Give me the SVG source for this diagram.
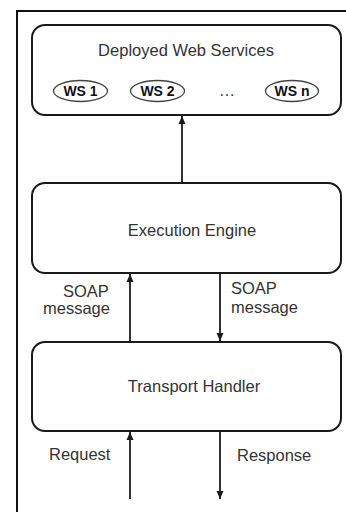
<svg xmlns="http://www.w3.org/2000/svg" width="346" height="512" viewBox="0 0 346 512">
<style>
.box{fill:#fff;stroke:#1a1a1a;stroke-width:2}
.t{font-family:"Liberation Sans",Arial,sans-serif;font-size:16.5px;fill:#333}
.ws{font-family:"Liberation Sans",Arial,sans-serif;font-size:14px;font-weight:bold;fill:#111;text-anchor:middle}
.el{fill:#fff;stroke:#444;stroke-width:1.3}
.c{stroke:#1a1a1a;stroke-width:1.8;fill:none}
</style>
<defs>
<marker id="ah" viewBox="0 0 8 10" refX="8" refY="5" markerWidth="8" markerHeight="10" markerUnits="userSpaceOnUse" orient="auto">
<path d="M0,1.5 L8,5 L0,8.5 Z" fill="#1a1a1a"/>
</marker>
</defs>
<rect width="346" height="512" fill="#fff"/>
<path d="M17,512 V11 H346" fill="none" stroke="#111" stroke-width="2"/>
<g id="deployed">
<rect class="box" x="32" y="25" width="309" height="90" rx="13"/>
<text class="t" x="186" y="56" text-anchor="middle">Deployed Web Services</text>
<g id="ws1"><ellipse class="el" cx="80.5" cy="91" rx="27" ry="10.5"/><text class="ws" x="80.5" y="96">WS 1</text></g>
<g id="ws2"><ellipse class="el" cx="157.5" cy="91" rx="27" ry="10.5"/><text class="ws" x="157.5" y="96">WS 2</text></g>
<text class="t" x="227" y="96" text-anchor="middle">…</text>
<g id="wsn"><ellipse class="el" cx="292" cy="91" rx="26.5" ry="10.5"/><text class="ws" x="292" y="96">WS n</text></g>
</g>
<g id="engine">
<rect class="box" x="32" y="183" width="309" height="90" rx="13"/>
<text class="t" x="192" y="236" text-anchor="middle">Execution Engine</text>
</g>
<g id="transport">
<rect class="box" x="32" y="342" width="309" height="89" rx="13"/>
<text class="t" x="194" y="392" text-anchor="middle">Transport Handler</text>
</g>
<g id="connectors">
<line class="c" x1="182" y1="183" x2="182" y2="116" marker-end="url(#ah)"/>
<line class="c" x1="130" y1="342" x2="130" y2="274" marker-end="url(#ah)"/>
<line class="c" x1="220" y1="273" x2="220" y2="341" marker-end="url(#ah)"/>
<line class="c" x1="130" y1="499" x2="130" y2="432" marker-end="url(#ah)"/>
<line class="c" x1="220" y1="431" x2="220" y2="499" marker-end="url(#ah)"/>
<text class="t" x="63" y="297">SOAP</text>
<text class="t" x="43" y="314">message</text>
<text class="t" x="231" y="294">SOAP</text>
<text class="t" x="231" y="313">message</text>
<text class="t" x="49" y="460">Request</text>
<text class="t" x="237" y="461">Response</text>
</g>
</svg>
